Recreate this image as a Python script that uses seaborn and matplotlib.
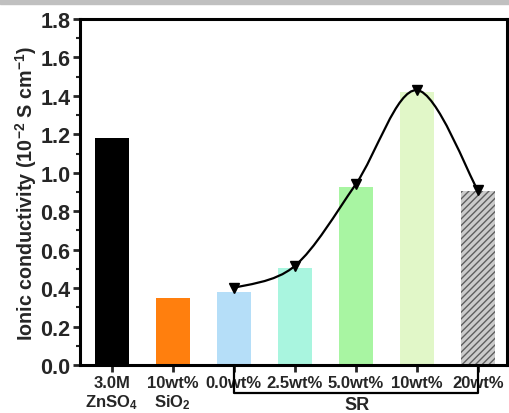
import numpy as np
import pandas as pd
import matplotlib
matplotlib.use("Agg")
import matplotlib.pyplot as plt
from matplotlib.path import Path
from matplotlib.patches import PathPatch, Rectangle
import seaborn as sns

# ---- data ----
categories = ["3.0M\nZnSO$_4$", "10wt%\nSiO$_2$", "0.0wt%", "2.5wt%", "5.0wt%", "10wt%", "20wt%"]
conductivity = [1.18, 0.35, 0.38, 0.505, 0.925, 1.42, 0.905]
curve_idx = [2, 3, 4, 5, 6]
curve_vals = [0.40, 0.515, 0.94, 1.43, 0.91]
bar_colors = ["#000000", "#FF7F0E", "#B5DEF8", "#A9F5DF", "#A8F5A2", "#E1F7C8", "#CBCBCB"]
group_label = "SR"
y_ticks = [0.0, 0.2, 0.4, 0.6, 0.8, 1.0, 1.2, 1.4, 1.6, 1.8]

sns.set_style("ticks")
plt.rcParams["font.family"] = ["Liberation Sans", "DejaVu Sans"]
plt.rcParams["font.weight"] = "bold"
plt.rcParams["axes.labelweight"] = "bold"
plt.rcParams["mathtext.fontset"] = "custom"
plt.rcParams["mathtext.rm"] = "Liberation Sans:bold"
plt.rcParams["mathtext.it"] = "Liberation Sans:bold"
plt.rcParams["mathtext.bf"] = "Liberation Sans:bold"
plt.rcParams["mathtext.default"] = "rm"
plt.rcParams["hatch.color"] = "#5e5e5e"
plt.rcParams["hatch.linewidth"] = 1.0

fig = plt.figure(figsize=(5.09, 4.14), dpi=100)
fig.patches.append(Rectangle((0, 1 - 5 / 414), 1, 5 / 414, transform=fig.transFigure,
                             color="#c0c0c0", zorder=0))
ax = fig.add_axes([80 / 509, 48 / 414, 427 / 509, 346 / 414])

df = pd.DataFrame({"cat": categories, "val": conductivity})
sns.barplot(data=df, x="cat", y="val", hue="cat", palette=bar_colors, legend=False,
            width=0.56, saturation=1, ax=ax, linewidth=0)
bars = ax.patches
bars[-1].set_hatch("/////")
bars[-1].set_edgecolor("#5e5e5e")
bars[-1].set_linewidth(0)

# smooth curve (Catmull-Rom as cubic Beziers) through marker points
pts = np.column_stack([np.array(curve_idx, float), np.array(curve_vals, float)])
ext = np.vstack([pts[0], pts, pts[-1]])
verts = [tuple(pts[0])]
codes = [Path.MOVETO]
for i in range(1, len(ext) - 2):
    p0, p1, p2, p3 = ext[i - 1], ext[i], ext[i + 1], ext[i + 2]
    c1 = p1 + (p2 - p0) / 6
    c2 = p2 - (p3 - p1) / 6
    verts += [tuple(c1), tuple(c2), tuple(p2)]
    codes += [Path.CURVE4] * 3
ax.add_patch(PathPatch(Path(verts, codes), facecolor="none", edgecolor="black",
                       lw=1.6, zorder=4))
ax.plot(curve_idx, curve_vals, linestyle="none", marker="v", color="black",
        markersize=7, zorder=5)

ax.set_xlim(-0.52, 6.48)
ax.set_ylim(0, 1.8)
ax.set_yticks(y_ticks)
ax.set_yticklabels([f"{t:.1f}" for t in y_ticks])
ax.set_yticks(np.arange(0.1, 1.8, 0.2), minor=True)
ax.set_xlabel("")
ax.set_ylabel("Ionic conductivity (10$^{-2}$ S cm$^{-1}$)", fontsize=14.2, labelpad=0.5)

for s in ax.spines.values():
    s.set_visible(True)
    s.set_linewidth(2.2)
    s.set_color("black")
ax.tick_params(axis="y", which="major", direction="out", length=5, width=2,
               labelsize=15.5, pad=2)
ax.tick_params(axis="y", which="minor", direction="out", length=3, width=1.5)
ax.tick_params(axis="x", which="major", direction="out", length=5, width=2,
               labelsize=12, pad=2)
for lab in ax.get_xticklabels() + ax.get_yticklabels():
    lab.set_fontweight("bold")

# group bracket
trans = ax.get_xaxis_transform()
yb = -28 / 346
ax.plot([2, 2, 6, 6], [0, yb, yb, 0], color="black", lw=1.6, transform=trans, clip_on=False)
ax.text(4.02, -40 / 346, group_label, transform=trans, ha="center", va="center",
        fontsize=13, fontweight="bold")

fig.savefig("out.png", dpi=100)
